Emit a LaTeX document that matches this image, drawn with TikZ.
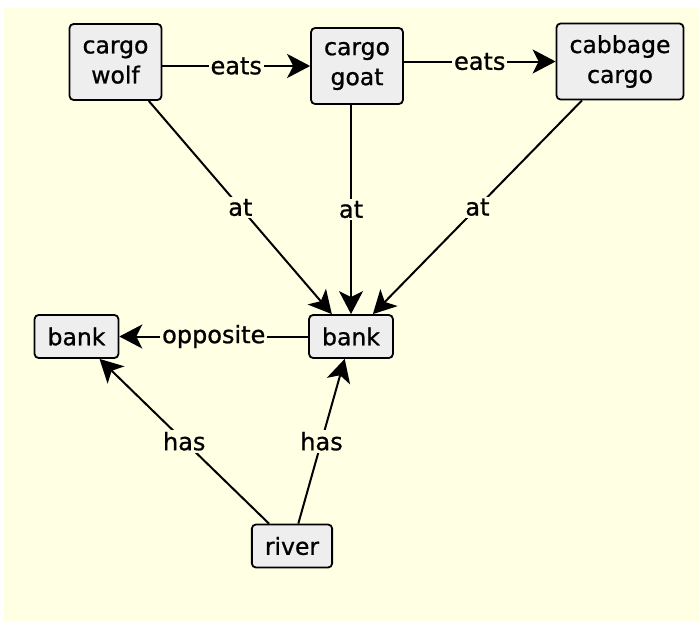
\documentclass[tikz,border=0pt]{standalone}
\usepackage{fontspec}
\setmainfont{DejaVu Sans}[FakeBold=0.9]
\usetikzlibrary{arrows.meta}
\definecolor{bgcream}{HTML}{FFFFE3}
\definecolor{boxgray}{HTML}{EEEEEE}
\tikzset{
  concept/.style={draw=black, fill=boxgray, rounded corners=4pt, line width=1.8pt,
    inner xsep=13pt, inner ysep=0pt, minimum height=43pt, align=center,
    font=\fontsize{23.5}{30}\selectfont},
  twoline/.style={concept, minimum height=76pt},
  rel/.style={draw=black, line width=2pt, -{Stealth[length=23pt,width=24pt,inset=6pt]}},
  lbl/.style={fill=bgcream, inner sep=2pt, font=\fontsize{24}{28}\selectfont}
}
\begin{document}
\begin{tikzpicture}[x=1pt,y=-1pt]
\useasboundingbox (0,0) rectangle (699,621);
\fill[white] (0,0) rectangle (699,621);
\fill[bgcream] (4,8) rectangle (699,621);

\node[twoline] (wolf) at (115.5,62) {cargo\\wolf};
\node[twoline] (goat) at (357,66) {cargo\\goat};
\node[twoline] (cabbage) at (620,61.5) {cabbage\\cargo};
\node[concept] (bankL) at (76.5,336.5) {bank};
\node[concept] (bankR) at (351,336.5) {bank};
\node[concept] (river) at (292,546) {river};

\draw[rel] (wolf.east |- goat.west) -- node[lbl] (e1) {eats} (goat.west);
\draw[rel] (goat.east |- cabbage.west) -- node[lbl] (e2) {eats} (cabbage.west);
\draw[rel] (wolf) -- node[lbl] (a1) {at} (bankR);
\draw[rel] (bankR.north |- goat.south) -- node[lbl] (a2) {at} (bankR.north);
\draw[rel] (cabbage) -- node[lbl] (a3) {at} (bankR);
\draw[rel] (bankR) -- node[lbl] (o1) {opposite} (bankL);
\draw[rel] (river) -- node[lbl] (h1) {has} (bankL);
\draw[rel] (river) -- node[lbl] (h2) {has} (bankR);
\end{tikzpicture}
\end{document}
